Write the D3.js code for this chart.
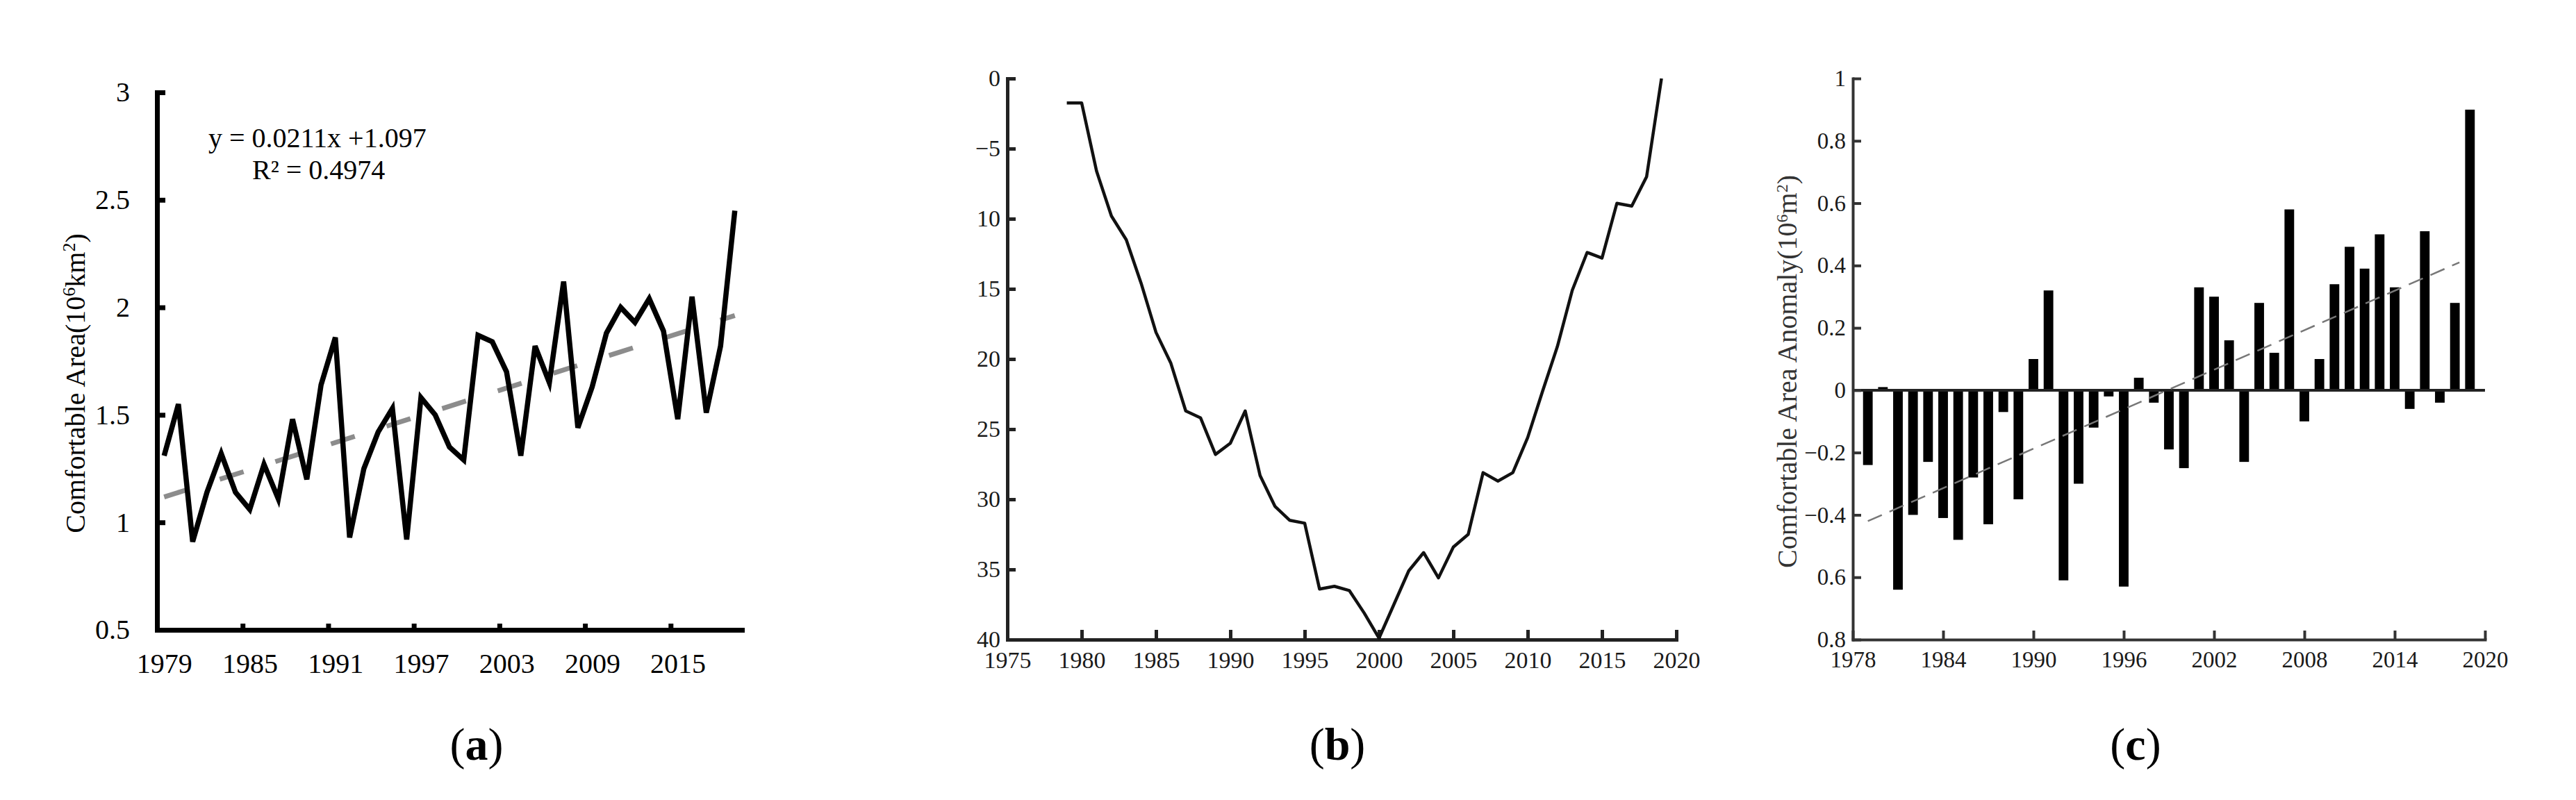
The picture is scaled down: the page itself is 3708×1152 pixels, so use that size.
<!DOCTYPE html>
<html>
<head>
<meta charset="utf-8">
<script src="https://cdn.jsdelivr.net/npm/d3@7/dist/d3.min.js"></script>
<style>
  html, body { margin: 0; padding: 0; background: #fff; }
  svg { display: block; }
  text { font-family: "Liberation Serif", "Times New Roman", "DejaVu Serif", serif; }
</style>
</head>
<body>
<svg id="chart" width="3708" height="1152"></svg>
<script>
// ---------------- DATA ----------------
const years = [1979,1980,1981,1982,1983,1984,1985,1986,1987,1988,1989,1990,1991,1992,1993,1994,1995,1996,1997,1998,1999,2000,2001,2002,2003,2004,2005,2006,2007,2008,2009,2010,2011,2012,2013,2014,2015,2016,2017,2018,2019];

// (a) comfortable area, 10^6 km^2
const areaA = [1.31,1.55,0.91,1.14,1.32,1.14,1.06,1.27,1.11,1.48,1.20,1.64,1.86,0.93,1.25,1.42,1.53,0.92,1.58,1.50,1.35,1.29,1.87,1.84,1.70,1.31,1.82,1.65,2.12,1.44,1.63,1.88,2.00,1.93,2.04,1.89,1.48,2.05,1.51,1.82,2.45];
const trendSlopeA = 0.0211, trendInterceptA = 1.097;
const formulaA = ["y = 0.0211x +1.097", "R² = 0.4974"];
const tickYearsA = [1979,1985,1991,1997,2003,2009,2015];
const yTicksA = [0.5,1,1.5,2,2.5,3];
const yTickLabelsA = ["0.5","1","1.5","2","2.5","3"];

// (b) cumulative anomaly
const cumB = [-1.74,-1.74,-6.6,-9.8,-11.5,-14.6,-18.1,-20.3,-23.7,-24.2,-26.8,-26.0,-23.7,-28.3,-30.5,-31.5,-31.7,-36.4,-36.2,-36.5,-38.1,-39.9,-37.5,-35.1,-33.8,-35.6,-33.4,-32.5,-28.1,-28.7,-28.1,-25.6,-22.3,-19.1,-15.1,-12.4,-12.8,-8.9,-9.1,-7.0,0.0];
const tickYearsB = [1975,1980,1985,1990,1995,2000,2005,2010,2015,2020];
const yTicksB = [0,-5,-10,-15,-20,-25,-30,-35,-40];
const yTickLabelsB = ["0","\u22125","10","15","20","25","30","35","40"];

// (c) anomaly
const anomC = [-0.24,0.01,-0.64,-0.40,-0.23,-0.41,-0.48,-0.28,-0.43,-0.07,-0.35,0.10,0.32,-0.61,-0.30,-0.12,-0.02,-0.63,0.04,-0.04,-0.19,-0.25,0.33,0.30,0.16,-0.23,0.28,0.12,0.58,-0.10,0.10,0.34,0.46,0.39,0.50,0.33,-0.06,0.51,-0.04,0.28,0.90];
const trendC = [[1979,-0.42],[2018.3,0.41]];
const tickYearsC = [1978,1984,1990,1996,2002,2008,2014,2020];
const yTicksC = [1,0.8,0.6,0.4,0.2,0,-0.2,-0.4,-0.6,-0.8];
const yTickLabelsC = ["1","0.8","0.6","0.4","0.2","0","\u22120.2","\u22120.4","0.6","0.8"];

const panelLabels = ["a","b","c"];

// ---------------- DRAW ----------------
const svg = d3.select("#chart");
svg.append("rect").attr("width",3708).attr("height",1152).attr("fill","#fff");

function styleAxis(g, color, width, fontSize) {
  g.select(".domain").attr("stroke", color).attr("stroke-width", width).attr("stroke-linecap","square");
  g.selectAll(".tick line").attr("stroke", color).attr("stroke-width", width);
  g.selectAll(".tick text").attr("fill", color === "#000" ? "#000" : "#1a1a1a")
    .style("font-size", fontSize + "px")
    .style("font-family", '"Liberation Serif", "Times New Roman", serif');
}

// ===== Panel (a) =====
const xA = d3.scaleLinear().domain([1979, 2020]).range([226, 1068]);
const yA = d3.scaleLinear().domain([0.5, 3]).range([907, 133]);
const halfA = (xA(1980) - xA(1979)) / 2;

const gA = svg.append("g");
const axXA = gA.append("g").attr("transform", `translate(0,${yA(0.5)})`)
  .call(d3.axisBottom(xA).tickValues(tickYearsA).tickFormat(d3.format("d")).tickSizeInner(-9).tickSizeOuter(0).tickPadding(34));
styleAxis(axXA, "#000", 7, 40);
axXA.selectAll(".tick text").attr("dx", halfA);
const axYA = gA.append("g").attr("transform", `translate(${xA(1979)},0)`)
  .call(d3.axisLeft(yA).tickValues(yTicksA).tickFormat((d,i) => yTickLabelsA[i]).tickSizeInner(-12).tickSizeOuter(0).tickPadding(39));
styleAxis(axYA, "#000", 7, 40);

function trendValueA(yr) { return trendSlopeA * (yr - years[0] + 1) + trendInterceptA; }
// trend (dashed gray)
gA.append("path")
  .datum([years[0], years[years.length-1]])
  .attr("d", d3.line().x(d => xA(d) + halfA).y(d => yA(trendValueA(d))))
  .attr("fill","none").attr("stroke","#8c8c8c").attr("stroke-width",7).attr("stroke-dasharray","36,48");

gA.append("path")
  .datum(areaA)
  .attr("d", d3.line().x((d,i) => xA(years[i]) + halfA).y(d => yA(d)))
  .attr("fill","none").attr("stroke","#000").attr("stroke-width",7.5).attr("stroke-linejoin","miter");

gA.append("text").attr("x",300).attr("y",212).style("font-size","40px").text(formulaA[0]);
gA.append("text").attr("x",363).attr("y",258).style("font-size","40px").text(formulaA[1]);

const labA = gA.append("text")
  .attr("transform","translate(122,552) rotate(-90)")
  .attr("text-anchor","middle").style("font-size","40px");
labA.append("tspan").text("Comfortable Area(10");
labA.append("tspan").attr("baseline-shift","super").style("font-size","26px").text("6");
labA.append("tspan").text("km");
labA.append("tspan").attr("baseline-shift","super").style("font-size","26px").text("2");
labA.append("tspan").text(")");

// ===== Panel (b) =====
const xB = d3.scaleLinear().domain([1975, 2020]).range([1450, 2413]);
const yB = d3.scaleLinear().domain([0, -40]).range([113, 921]);
const gB = svg.append("g");
const axXB = gB.append("g").attr("transform", `translate(0,${yB(-40)})`)
  .call(d3.axisBottom(xB).tickValues(tickYearsB).tickFormat(d3.format("d")).tickSizeInner(-14).tickSizeOuter(0).tickPadding(17));
styleAxis(axXB, "#222", 5, 34);
const axYB = gB.append("g").attr("transform", `translate(${xB(1975)},0)`)
  .call(d3.axisLeft(yB).tickValues(yTicksB).tickFormat((d,i) => yTickLabelsB[i]).tickSizeInner(-12).tickSizeOuter(0).tickPadding(10));
styleAxis(axYB, "#222", 5, 34);

gB.append("path")
  .datum(cumB)
  .attr("d", d3.line().x((d,i) => xB(years[i])).y(d => yB(d)))
  .attr("fill","none").attr("stroke","#111").attr("stroke-width",4.5).attr("stroke-linejoin","round");

// ===== Panel (c) =====
const xC = d3.scaleLinear().domain([1978, 2020]).range([2667, 3577]);
const yC = d3.scaleLinear().domain([-0.8, 1]).range([921, 113]);
const barW = (xC(1979) - xC(1978)) * 0.64;
const gC = svg.append("g");

gC.selectAll("rect.bar").data(anomC).join("rect").attr("class","bar")
  .attr("x",(d,i) => xC(years[i]) - barW/2)
  .attr("y", d => Math.min(yC(d), yC(0)))
  .attr("width", barW)
  .attr("height", d => Math.abs(yC(d) - yC(0)))
  .attr("fill","#000");

// zero line
gC.append("line").attr("x1", xC(1978)).attr("x2", xC(2020)).attr("y1", yC(0)).attr("y2", yC(0))
  .attr("stroke","#222").attr("stroke-width",4);

const axXC = gC.append("g").attr("transform", `translate(0,${yC(-0.8)})`)
  .call(d3.axisBottom(xC).tickValues(tickYearsC).tickFormat(d3.format("d")).tickSizeInner(-13).tickSizeOuter(0).tickPadding(17));
styleAxis(axXC, "#333", 4, 33);
const axYC = gC.append("g").attr("transform", `translate(${xC(1978)},0)`)
  .call(d3.axisLeft(yC).tickValues(yTicksC).tickFormat((d,i) => yTickLabelsC[i]).tickSizeInner(-12).tickSizeOuter(0).tickPadding(10));
styleAxis(axYC, "#333", 4, 33);

gC.append("path")
  .datum(trendC)
  .attr("d", d3.line().x(d => xC(d[0])).y(d => yC(d[1])))
  .attr("fill","none").attr("stroke","#777").attr("stroke-width",2.5).attr("stroke-dasharray","22,12");

const labC = gC.append("text")
  .attr("transform","translate(2586,535) rotate(-90)")
  .attr("text-anchor","middle").attr("fill","#333").style("font-size","40px");
labC.append("tspan").text("Comfortable Area Anomaly(10");
labC.append("tspan").attr("baseline-shift","super").style("font-size","24px").text("6");
labC.append("tspan").text("m");
labC.append("tspan").attr("baseline-shift","super").style("font-size","24px").text("2");
labC.append("tspan").text(")");

// ===== Panel letters =====
const labelX = [686, 1925, 3074];
panelLabels.forEach((p, i) => {
  const t = svg.append("text").attr("x", labelX[i]).attr("y", 1094)
    .attr("text-anchor","middle").style("font-size","66px");
  t.append("tspan").text("(");
  t.append("tspan").style("font-weight","bold").text(p);
  t.append("tspan").text(")");
});
</script>
</body>
</html>
